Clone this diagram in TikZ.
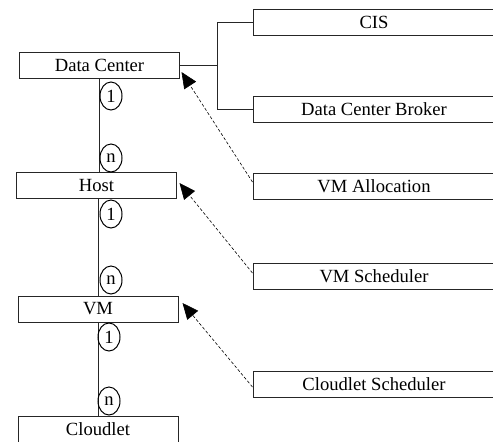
\documentclass[tikz,border=0pt]{standalone}
\usepackage{fontspec}
\setmainfont{Liberation Serif}
\usetikzlibrary{shapes.geometric,arrows.meta}

\begin{document}
\begin{tikzpicture}[x=0.5pt,y=-0.5pt,
  font=\fontsize{9.3}{11}\selectfont,
  entity/.style={rectangle, draw=black!85, line width=0.5pt, minimum width=80pt, minimum height=13pt, inner sep=0pt},
  module/.style={rectangle, draw=black!85, line width=0.5pt, minimum width=121pt, minimum height=13pt, inner sep=0pt},
  card/.style={ellipse, draw=black, line width=0.5pt, minimum width=11pt, minimum height=14pt, inner sep=0pt},
  link/.style={draw=black!85, line width=0.5pt},
  uses/.style={dash pattern=on 1.5pt off 1pt, line width=0.3pt, -{Triangle[length=8pt,width=7pt]}}]

\useasboundingbox (0,0) rectangle (493,441);

% Entity chain
\node[entity] (dc) at (99.5,65.5) {Data Center};
\node[entity] (host) at (96.5,185) {Host};
\node[entity] (vm) at (98,309) {VM};
\node[entity] (cl) at (98,429) {Cloudlet};

% Policy / service boxes
\foreach \name/\y/\txt in {cis/22.5/CIS, broker/109/Data Center Broker, alloc/186.5/VM Allocation, vmsched/276/VM Scheduler, clsched/384/Cloudlet Scheduler}
\node[module] (\name) at (374,\y) {\txt};

% One-to-many links
\draw[link] (dc.south) -- (dc.south |- host.north);
\draw[link] (vm.north |- host.south) -- (vm.north);
\draw[link] (vm.south) -- (vm.south |- cl.north);

% Cardinality marks
\foreach \name/\x/\y/\lbl in {m1/111/96/1, m2/111/158/n, m3/111/214/1, m4/111/280/n, m5/109/337/1, m6/109/401/n}
\node[card] (\name) at (\x,\y) {\lbl};

% Data Center owns CIS and broker
\coordinate (fork) at (217,0);
\draw[link] (dc.east) -- (dc.east -| fork);
\draw[link] (cis.west) -- (cis.west -| fork) -- (broker.west -| fork) -- (broker.west);

% Policies acting on the entities
\draw[uses] ([shift={(0,-4.5)}]alloc.west) -- ([shift={(1.5,6.5)}]dc.east);
\draw[uses] ([shift={(0,-3)}]vmsched.west) -- ([shift={(2.5,-2)}]host.east);
\draw[uses] ([shift={(0,3)}]clsched.west) -- ([shift={(4,-6)}]vm.east);

\end{tikzpicture}
\end{document}
